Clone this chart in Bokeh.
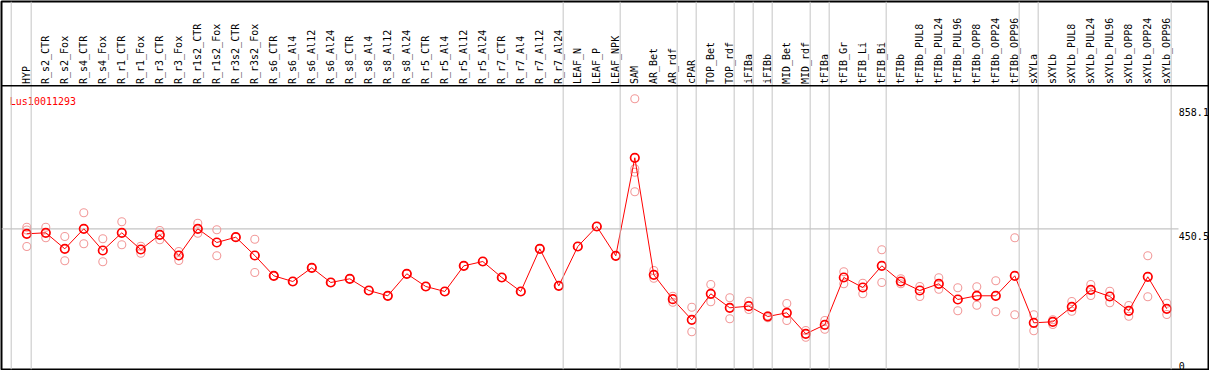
import math
from bokeh.plotting import figure
from bokeh.models import Span, Range1d, ColumnDataSource
from bokeh.core.properties import value
from bokeh.embed import file_html
from bokeh.resources import INLINE

gene = "Lus10011293"

samples = ["HYP", "R_s2_CTR", "R_s2_Fox", "R_s4_CTR", "R_s4_Fox", "R_r1_CTR", "R_r1_Fox",
           "R_r3_CTR", "R_r3_Fox", "R_r1s2_CTR", "R_r1s2_Fox", "R_r3s2_CTR", "R_r3s2_Fox",
           "R_s6_CTR", "R_s6_Al4", "R_s6_Al12", "R_s6_Al24", "R_s8_CTR", "R_s8_Al4", "R_s8_Al12",
           "R_s8_Al24", "R_r5_CTR", "R_r5_Al4", "R_r5_Al12", "R_r5_Al24", "R_r7_CTR", "R_r7_Al4",
           "R_r7_Al12", "R_r7_Al24", "LEAF_N", "LEAF_P", "LEAF_NPK", "SAM", "AR_Bet", "AR_rdf",
           "cPAR", "TOP_Bet", "TOP_rdf", "iFIBa", "iFIBb", "MID_Bet", "MID_rdf", "tFIBa",
           "tFIB_Gr", "tFIB_Li", "tFIB_Bi", "tFIBb", "tFIBb_PUL8", "tFIBb_PUL24", "tFIBb_PUL96",
           "tFIBb_OPP8", "tFIBb_OPP24", "tFIBb_OPP96", "sXYLa", "sXYLb", "sXYLb_PUL8",
           "sXYLb_PUL24", "sXYLb_PUL96", "sXYLb_OPP8", "sXYLb_OPP24", "sXYLb_OPP96"]

mean_expr = [434.9, 438.0, 387.8, 450.6, 382.5, 438.0, 385.7, 431.7, 366.8, 450.6,
             407.6, 424.2, 366.8, 303.2, 285.3, 328.3, 282.2, 293.8, 257.1, 240.5,
             309.5, 269.6, 254.0, 334.5, 348.0, 297.9, 254.0, 387.8, 271.8, 395.1,
             457.8, 365.9, 673.2, 306.3, 229.8, 165.2, 246.8, 202.9, 207.9, 175.6,
             187.2, 121.3, 149.6, 297.9, 266.5, 334.5, 285.3, 257.1, 278.1, 228.9,
             240.5, 240.5, 303.2, 155.8, 159.0, 206.0, 259.3, 238.3, 193.5, 300.1,
             199.7]

rep_1 = [455.6, 455.6, 426.4, 500.7, 419.2, 472.5, 396.0, 445.2, 379.4, 468.1,
         447.4, 424.2, 418.0, 303.2, 285.3, 328.3, 282.2, 293.8, 257.1, 240.5,
         309.5, 269.6, 254.0, 334.5, 348.0, 297.9, 254.0, 387.8, 271.8, 395.1,
         457.8, 365.9, 858.1, 319.8, 239.2, 204.7, 275.9, 234.2, 223.6, 177.8,
         216.3, 131.7, 163.0, 315.7, 280.0, 384.7, 293.8, 269.6, 296.9, 265.6,
         268.7, 287.5, 422.3, 180.9, 165.2, 222.6, 275.9, 254.9, 210.1, 365.9,
         217.3]

rep_2 = [395.1, 422.3, 350.2, 403.5, 347.1, 400.4, 374.1, 416.1, 351.2, 436.8,
         365.9, 424.2, 313.5, 303.2, 285.3, 328.3, 282.2, 293.8, 257.1, 240.5,
         309.5, 269.6, 254.0, 334.5, 348.0, 297.9, 254.0, 387.8, 271.8, 395.1,
         457.8, 365.9, 566.6, 295.7, 220.4, 127.6, 221.7, 168.4, 197.5, 171.5,
         163.0, 110.7, 135.8, 278.1, 246.8, 282.2, 278.1, 238.3, 261.2, 193.5,
         211.0, 190.3, 180.9, 130.7, 150.5, 192.2, 241.4, 218.5, 176.5, 237.4,
         181.9]

extra_samples = ["HYP", "SAM", "SAM"]
extra_values = [446.8, 638.7, 628.0]

group_last = ["HYP", "R_r7_Al24", "LEAF_NPK", "AR_rdf", "cPAR", "TOP_rdf", "iFIBa",
              "iFIBb", "MID_rdf", "tFIBa", "tFIB_Bi", "tFIBb_OPP96", "sXYLa", "sXYLb_OPP96"]

scale_labels = ["858.1", "450.5", "0"]
ref_level = 450.5

# ---- layout helpers (reference pixel -> data units) ----
def ry(py):
    return (372.0 - py) * 3.1354

def rx(px):
    return (px - 26.3) / 19.0

xs = list(range(len(samples)))

p = figure(width=1209, height=370, output_backend="svg", toolbar_location=None,
           x_range=Range1d(rx(1), rx(1208)), y_range=Range1d(ry(369), ry(1)),
           x_axis_location=None, y_axis_location=None,
           min_border_left=1, min_border_right=1, min_border_top=1, min_border_bottom=1,
           background_fill_color="white", border_fill_color="white")
p.xgrid.visible = False
p.ygrid.visible = False
p.outline_line_color = "black"
p.outline_line_width = 2

grey = "#c4c4c4"
# group separators
p.add_layout(Span(location=rx(10.7), dimension="height", line_color=grey, line_width=1))
for g in group_last:
    p.add_layout(Span(location=samples.index(g) + 0.23, dimension="height",
                      line_color=grey, line_width=1))

# reference level line
p.segment(x0=[rx(1)], y0=[ref_level], x1=[rx(1178)], y1=[ref_level],
          line_color=grey, line_width=1.2)

# header separator
p.add_layout(Span(location=ry(85.3), dimension="width", line_color="black", line_width=1.5))

# header labels
p.text(x=xs, y=[ry(83.5)] * len(samples), text=samples, angle=math.pi / 2,
       text_align="left", text_baseline="middle", text_color="black",
       text_font=value("DejaVu Sans Mono"), text_font_size="10px")

# replicates
pink = "#f29a9a"
rep_src = ColumnDataSource(dict(x=xs + xs + [samples.index(s) for s in extra_samples],
                                y=rep_1 + rep_2 + extra_values))
p.scatter(x="x", y="y", source=rep_src, marker="circle", size=8,
          line_color=pink, line_width=1.1, fill_color=None)

# mean line and markers
p.line(x=xs, y=mean_expr, line_color="#ff0000", line_width=1)
p.scatter(x=xs, y=mean_expr, marker="circle", size=8.5, line_color="#ff0000",
          line_width=1.7, fill_color=None)

# gene name
p.text(x=[rx(9.3)], y=[ry(100.7)], text=[gene], text_align="left",
       text_baseline="alphabetic", text_color="#ff0000",
       text_font=value("DejaVu Sans Mono"), text_font_size="10px")

# scale labels at right
p.text(x=[rx(1178.3)] * 3, y=[ry(111.3), ry(235.8), ry(365.0)], text=scale_labels,
       text_align="left", text_baseline="alphabetic", text_color="black",
       text_font=value("DejaVu Sans Mono"), text_font_size="10px")

open("out.html", "w").write(file_html(p, INLINE))
